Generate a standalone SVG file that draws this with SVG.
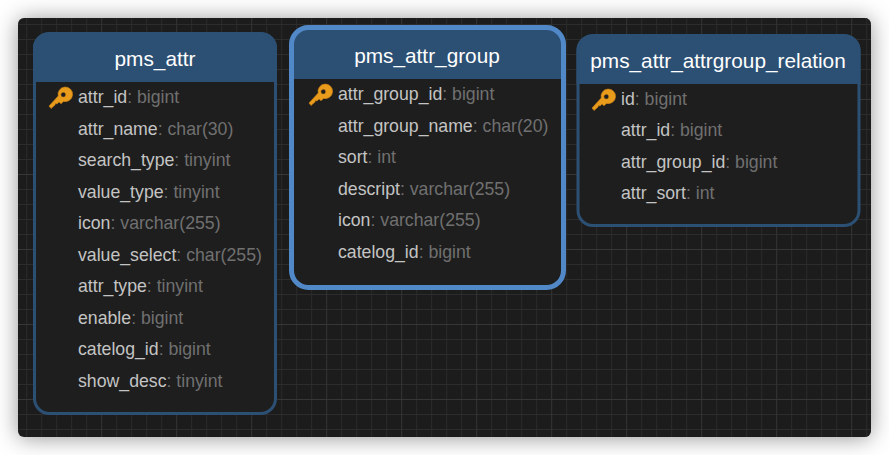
<svg xmlns="http://www.w3.org/2000/svg" xmlns:xlink="http://www.w3.org/1999/xlink" width="889" height="455" viewBox="0 0 889 455">
<style>
text{font-family:"Liberation Sans",Arial,sans-serif}
.t{font-size:20.8px;fill:#fff;text-anchor:middle}
.f{font-size:17.7px;fill:#c4c4c4}
.y{fill:#707070}
.hd{fill:#2c5074}
.bd{fill:#1e1e1e}
.g{stroke:#2c2c2c;stroke-width:1;fill:none}
.G{stroke:#363636;stroke-width:1;fill:none}
</style>
<defs>
<filter id="sh" x="-10%" y="-15%" width="120%" height="130%"><feDropShadow dx="0" dy="1" stdDeviation="11" flood-color="#000" flood-opacity="0.42"/></filter>
<g id="key"><path d="M-9 11 L-11 8.500 L-1.800 -1.500 A7.300 7.300 0 1 1 3.500 3.900 L1 6.300 L-1 4.400 L-3 6.400 L-4.500 6 L-5 7.500 Z M3.300 -5.200 A2.400 2.400 0 1 0 3.310 -5.200 Z" fill="#e99b1c" fill-rule="evenodd" stroke="#c97f12" stroke-width="0.6"/></g>
</defs>
<rect width="889" height="455" fill="#fff"/>
<rect x="18" y="18" width="853" height="419" rx="6" fill="#1f1f1f" filter="url(#sh)"/>
<path class="g" d="M26.700 18V437M41.700 18V437M56.700 18V437M71.700 18V437M86.700 18V437M116.700 18V437M131.700 18V437M146.700 18V437M161.700 18V437M191.700 18V437M206.700 18V437M221.700 18V437M236.700 18V437M266.700 18V437M281.700 18V437M296.700 18V437M311.700 18V437M341.700 18V437M356.700 18V437M371.700 18V437M386.700 18V437M416.700 18V437M431.700 18V437M446.700 18V437M461.700 18V437M491.700 18V437M506.700 18V437M521.700 18V437M536.700 18V437M566.700 18V437M581.700 18V437M596.700 18V437M611.700 18V437M641.700 18V437M656.700 18V437M671.700 18V437M686.700 18V437M716.700 18V437M731.700 18V437M746.700 18V437M761.700 18V437M791.700 18V437M806.700 18V437M821.700 18V437M836.700 18V437M866.700 18V437M18 24.500H871M18 39.500H871M18 54.500H871M18 69.500H871M18 84.500H871M18 114.500H871M18 129.500H871M18 144.500H871M18 159.500H871M18 189.500H871M18 204.500H871M18 219.500H871M18 234.500H871M18 264.500H871M18 279.500H871M18 294.500H871M18 309.500H871M18 339.500H871M18 354.500H871M18 369.500H871M18 384.500H871M18 414.500H871M18 429.500H871"/>
<path class="G" d="M101.700 18V437M176.700 18V437M251.700 18V437M326.700 18V437M401.700 18V437M476.700 18V437M551.700 18V437M626.700 18V437M701.700 18V437M776.700 18V437M851.700 18V437M18 99.500H871M18 174.500H871M18 249.500H871M18 324.500H871M18 399.500H871"/>
<g id="connectors"></g>
<g id="pms_attr">
<rect class="bd" x="34.500" y="33.500" width="241" height="380" rx="15"/>
<path class="hd" d="M33 82V47.500A15 15 0 0 1 48 32.500H262A15 15 0 0 1 277 47.500V82Z"/>
<rect x="34.500" y="33.500" width="241" height="380" rx="15" fill="none" stroke="#2c5074" stroke-width="3"/>
<text class="t" x="155" y="66">pms_attr</text>
<use xlink:href="#key" href="#key" x="60" y="97.500"/>
<text class="f" x="78" y="102.500">attr_id<tspan class="y">: bigint</tspan></text>
<text class="f" x="78" y="134.500">attr_name<tspan class="y">: char(30)</tspan></text>
<text class="f" x="78" y="165.500">search_type<tspan class="y">: tinyint</tspan></text>
<text class="f" x="78" y="197.500">value_type<tspan class="y">: tinyint</tspan></text>
<text class="f" x="78" y="228.500">icon<tspan class="y">: varchar(255)</tspan></text>
<text class="f" x="78" y="260.500">value_select<tspan class="y">: char(255)</tspan></text>
<text class="f" x="78" y="291.500">attr_type<tspan class="y">: tinyint</tspan></text>
<text class="f" x="78" y="323.500">enable<tspan class="y">: bigint</tspan></text>
<text class="f" x="78" y="354.500">catelog_id<tspan class="y">: bigint</tspan></text>
<text class="f" x="78" y="386.500">show_desc<tspan class="y">: tinyint</tspan></text>
</g>
<g id="pms_attr_group">
<rect class="bd" x="291.500" y="27.500" width="272" height="260" rx="17"/>
<path class="hd" d="M291 79V44A17 17 0 0 1 308 27.500H547A17 17 0 0 1 564 44V79Z"/>
<rect x="291.500" y="27.500" width="272" height="260" rx="17" fill="none" stroke="#5088c8" stroke-width="5"/>
<text class="t" x="427" y="63">pms_attr_group</text>
<use xlink:href="#key" href="#key" x="320" y="94.500"/>
<text class="f" x="338" y="99.500">attr_group_id<tspan class="y">: bigint</tspan></text>
<text class="f" x="338" y="131.500">attr_group_name<tspan class="y">: char(20)</tspan></text>
<text class="f" x="338" y="162.500">sort<tspan class="y">: int</tspan></text>
<text class="f" x="338" y="194.500">descript<tspan class="y">: varchar(255)</tspan></text>
<text class="f" x="338" y="225.500">icon<tspan class="y">: varchar(255)</tspan></text>
<text class="f" x="338" y="257.500">catelog_id<tspan class="y">: bigint</tspan></text>
</g>
<g id="pms_attr_attrgroup_relation">
<rect class="bd" x="578" y="35.500" width="281" height="190" rx="15"/>
<path class="hd" d="M576.500 84V50.500A15 15 0 0 1 591.500 35H845A15 15 0 0 1 860.500 50.500V84Z"/>
<rect x="578" y="35.500" width="281" height="190" rx="15" fill="none" stroke="#2c5074" stroke-width="3"/>
<text class="t" x="718" y="68">pms_attr_attrgroup_relation</text>
<use xlink:href="#key" href="#key" x="603" y="99.500"/>
<text class="f" x="621" y="104.500">id<tspan class="y">: bigint</tspan></text>
<text class="f" x="621" y="135.500">attr_id<tspan class="y">: bigint</tspan></text>
<text class="f" x="621" y="167.500">attr_group_id<tspan class="y">: bigint</tspan></text>
<text class="f" x="621" y="198.500">attr_sort<tspan class="y">: int</tspan></text>
</g>
</svg>
